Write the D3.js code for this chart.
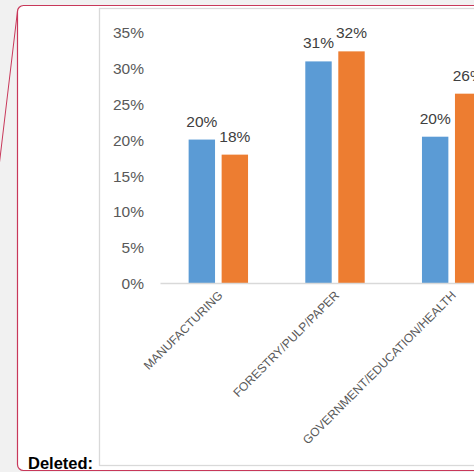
<!DOCTYPE html>
<html>
<head>
<meta charset="utf-8">
<script src="https://cdn.jsdelivr.net/npm/d3@7"></script>
<style>
  html, body { margin: 0; padding: 0; background: #f1f1f1; }
  svg { display: block; }
</style>
</head>
<body>
<svg id="chart" width="474" height="472"></svg>
<script>
const categories = ["MANUFACTURING", "FORESTRY/PULP/PAPER", "GOVERNMENT/EDUCATION/HEALTH"];
const seriesNames = ["Series A", "Series B"];
const seriesA = [0.20, 0.309, 0.204];
const seriesB = [0.179, 0.323, 0.264];
const labelsA = ["20%", "31%", "20%"];
const labelsB = ["18%", "32%", "26%"];
const yTicks = [0, 0.05, 0.10, 0.15, 0.20, 0.25, 0.30, 0.35];
const colors = ["#5b9bd5", "#ed7d31"];

const svg = d3.select("#chart");

// page background + tracked-change balloon
svg.append("rect").attr("x", 0).attr("y", 0).attr("width", 474).attr("height", 472).attr("fill", "#f1f1f1");
svg.append("line").attr("x1", 17.5).attr("y1", 11).attr("x2", -2).attr("y2", 175)
  .attr("stroke", "#c8385a").attr("stroke-width", 1);
svg.append("rect").attr("x", 17.5).attr("y", 5.5).attr("width", 480).attr("height", 465)
  .attr("rx", 6).attr("fill", "#ffffff").attr("stroke", "#c8385a").attr("stroke-width", 1.2);

// chart area box
svg.append("rect").attr("x", 99.5).attr("y", 8.5).attr("width", 400).attr("height", 457)
  .attr("fill", "#ffffff").attr("stroke", "#d9d9d9").attr("stroke-width", 1.3);

svg.append("text").attr("x", 28).attr("y", 469)
  .attr("font-family", "Liberation Sans, Arial, sans-serif").attr("font-weight", "bold")
  .attr("font-size", 16.5).attr("fill", "#000").text("Deleted:");

const x0 = d3.scaleBand().domain(categories).range([160, 510]).padding(0);
const groupHalf = 29.7;
const x1 = d3.scaleBand().domain(seriesNames)
  .range([x0.bandwidth() / 2 - groupHalf, x0.bandwidth() / 2 + groupHalf]).paddingInner(0.2).paddingOuter(0);
const y = d3.scaleLinear().domain([0, 0.35]).range([283, 32]);

// y axis labels
const yAxis = d3.axisLeft(y).tickValues(yTicks).tickFormat(d3.format(".0%")).tickSize(0).tickPadding(0);
const yg = svg.append("g").attr("transform", "translate(144,0)").call(yAxis);
yg.select(".domain").remove();
yg.selectAll("text").attr("font-family", "Liberation Sans, Arial, sans-serif")
  .attr("font-size", 15.5).attr("fill", "#595959").attr("dy", "0.36em");

// bars
const data = categories.map((c, i) => ({ c, vals: [
  { s: seriesNames[0], v: seriesA[i], l: labelsA[i], col: colors[0] },
  { s: seriesNames[1], v: seriesB[i], l: labelsB[i], col: colors[1] }
]}));

const groups = svg.append("g").selectAll("g").data(data).join("g")
  .attr("transform", d => `translate(${x0(d.c)},0)`);
groups.selectAll("rect").data(d => d.vals).join("rect")
  .attr("x", d => x1(d.s)).attr("width", x1.bandwidth())
  .attr("y", d => y(d.v)).attr("height", d => y(0) - y(d.v))
  .attr("fill", d => d.col);
groups.selectAll("text").data(d => d.vals).join("text")
  .attr("x", d => x1(d.s) + x1.bandwidth() / 2).attr("y", d => y(d.v) - 13)
  .attr("text-anchor", "middle")
  .attr("font-family", "Liberation Sans, Arial, sans-serif").attr("font-size", 15.5)
  .attr("fill", "#404040").text(d => d.l);

// x axis
const xAxis = d3.axisBottom(x0).tickSize(0).tickPadding(0);
const xg = svg.append("g").attr("transform", "translate(0,283)").call(xAxis);
xg.select(".domain").attr("stroke", "#d9d9d9").attr("stroke-width", 1.5);
xg.selectAll("text")
  .attr("font-family", "Liberation Sans, Arial, sans-serif").attr("font-size", 12.1)
  .attr("fill", "#595959")
  .attr("text-anchor", "end")
  .attr("dy", "0.35em")
  .attr("transform", "translate(2,10) rotate(-45)");
</script>
</body>
</html>
